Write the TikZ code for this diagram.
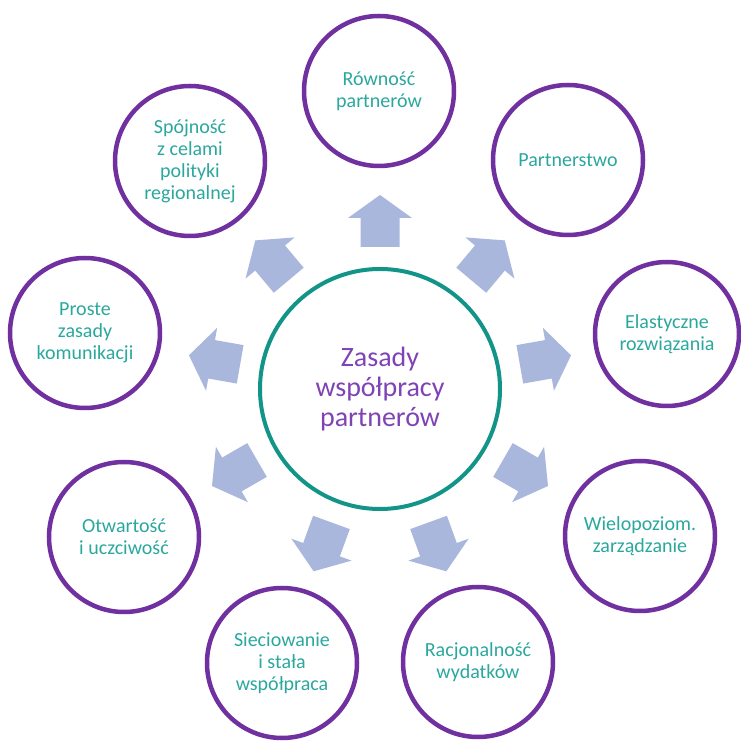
\documentclass[tikz,border=0pt]{standalone}
\usepackage{fontspec}
\setmainfont{Carlito}
\definecolor{ringpurple}{HTML}{7030A0}
\definecolor{tealtxt}{HTML}{2BA89E}
\definecolor{tealring}{HTML}{139488}
\definecolor{centertxt}{HTML}{8043B5}
\definecolor{arrowfill}{HTML}{AAB7DD}
\begin{document}
\begin{tikzpicture}[x=1pt,y=1pt,
 outer/.style={circle, draw=ringpurple, line width=4.5pt, minimum size=150pt, inner sep=0pt, align=center, text=tealtxt, font=\fontsize{20}{22}\selectfont},
 hub/.style={circle, draw=tealring, line width=4pt, minimum size=240pt, inner sep=0pt, align=center, text=centertxt, font=\fontsize{28}{30}\selectfont},
 blockarrow/.style={fill=arrowfill}]
\fill[white] (0,0) rectangle (741,742);
\useasboundingbox (0,0) rectangle (741,742);

\node[hub] (hub) at (380,353) {Zasady\\współpracy\\partnerów};

\foreach \a in {90,50,10,-30,-70,-110,-150,170,130}{
  \fill[blockarrow, shift={(hub.center)}, rotate=\a]
    (142,-19.5) -- (171,-19.5) -- (171,-32) -- (194,0) -- (171,32) -- (171,19.5) -- (142,19.5) -- cycle;
}

\node[outer] (rownosc) at (379,651) {Równość\\partnerów};
\node[outer] (partner) at (568,582) {Partnerstwo};
\node[outer, minimum size=144pt] (elast) at (667,408) {Elastyczne\\rozwiązania};
\node[outer] (wielo) at (640,206) {Wielopoziom.\\zarządzanie};
\node[outer] (racjo) at (478,80) {Racjonalność\\wydatków};
\node[outer] (siec) at (282,79) {Sieciowanie\\i stała\\współpraca};
\node[outer] (otwart) at (124,205) {Otwartość\\i uczciwość};
\node[outer] (proste) at (85,409) {Proste\\zasady\\komunikacji};
\node[outer] (spojn) at (190,581) {Spójność\\z celami\\polityki\\regionalnej};
\end{tikzpicture}
\end{document}
